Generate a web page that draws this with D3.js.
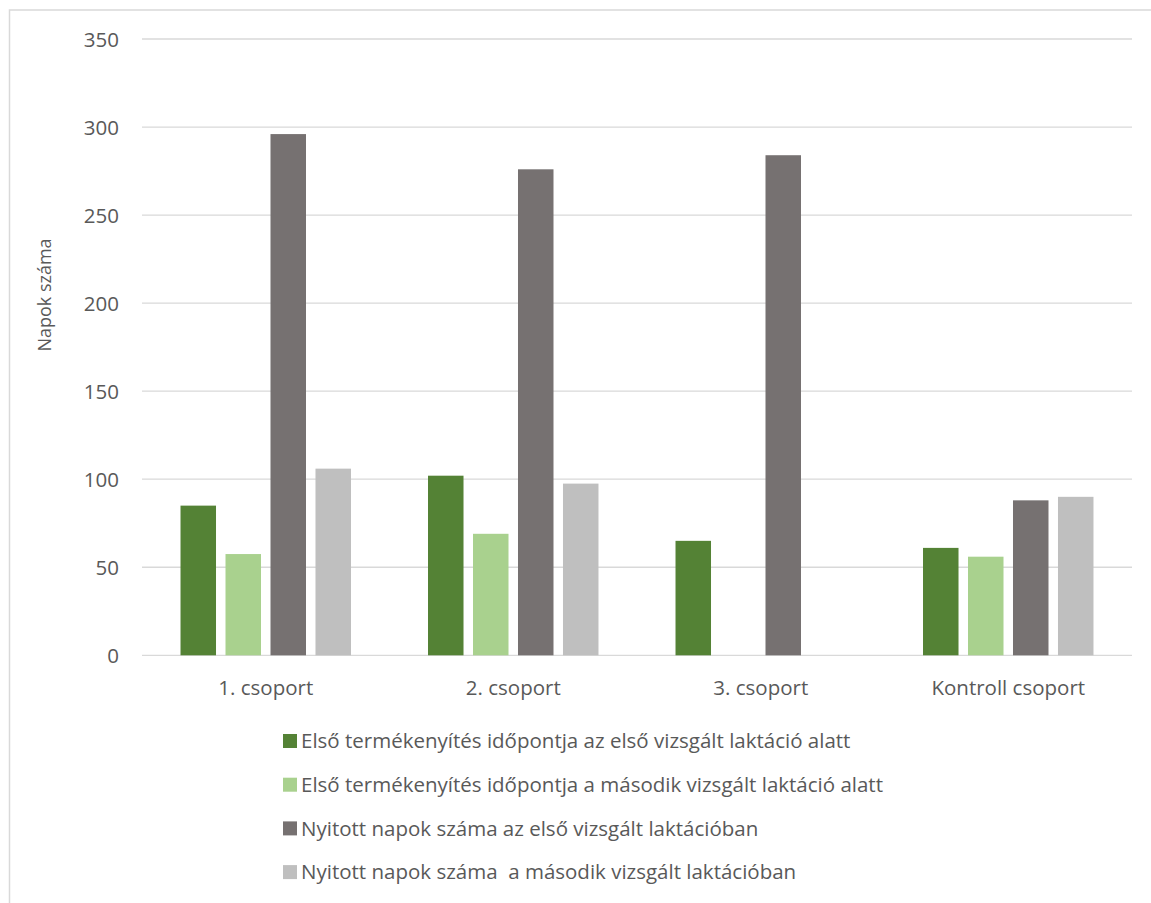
<!DOCTYPE html>
<html>
<head>
<meta charset="utf-8">
<script src="https://cdn.jsdelivr.net/npm/d3@7"></script>
<style>
  html, body { margin: 0; padding: 0; background: #fff; }
  svg { display: block; font-family: "Open Sans", "Liberation Sans", sans-serif; }
  text { white-space: pre; }
</style>
</head>
<body>
<svg id="chart" width="1151" height="903"></svg>
<script>
// Groups along the x axis
const categories = ["1. csoport", "2. csoport", "3. csoport", "Kontroll csoport"];

// Series names (legend order)
const seriesNames = [
  "Első termékenyítés időpontja az első vizsgált laktáció alatt",
  "Első termékenyítés időpontja a második vizsgált laktáció alatt",
  "Nyitott napok száma az első vizsgált laktációban",
  "Nyitott napok száma  a második vizsgált laktációban"
];

// Values per series, one entry per group (null = no bar)
const firstInsemination1 = [85, 102, 65, 61];
const firstInsemination2 = [57.5, 69, null, 56];
const openDays1 = [296, 276, 284, 88];
const openDays2 = [106, 97.5, null, 90];

const yTicks = [0, 50, 100, 150, 200, 250, 300, 350];
const colors = ["#548235", "#A9D18E", "#767171", "#BFBFBF"];

const seriesValues = [firstInsemination1, firstInsemination2, openDays1, openDays2];

const svg = d3.select("#chart");

// Outer chart frame
svg.append("rect")
  .attr("x", 9.5).attr("y", 10)
  .attr("width", 1200).attr("height", 1000)
  .attr("fill", "none").attr("stroke", "#d9d9d9").attr("stroke-width", 1.5);

const plot = { left: 142, right: 1132, top: 39, bottom: 655.3 };

const y = d3.scaleLinear().domain([0, 350]).range([plot.bottom, plot.top]);
const x0 = d3.scaleBand().domain(categories).range([plot.left, plot.right]).padding(0);
const bw = x0.bandwidth();
const x1 = d3.scaleBand().domain(d3.range(seriesNames.length))
  .range([bw * 0.1556, bw * 0.8444]).paddingInner(0.211).paddingOuter(0);

// Horizontal gridlines
svg.append("g").selectAll("line").data(yTicks).join("line")
  .attr("x1", plot.left).attr("x2", plot.right)
  .attr("y1", d => y(d)).attr("y2", d => y(d))
  .attr("stroke", "#d9d9d9").attr("stroke-width", 1.3);

// Y axis labels
const yAxis = d3.axisLeft(y).tickValues(yTicks).tickSize(0).tickPadding(0);
const gy = svg.append("g").attr("transform", `translate(119,0)`).call(yAxis);
gy.select(".domain").remove();
gy.selectAll("text")
  .attr("font-family", "Open Sans, Liberation Sans, sans-serif")
  .attr("font-size", 20.5).attr("fill", "#595959").attr("dy", "0.35em");

// Y axis title
svg.append("text")
  .attr("transform", "translate(51,295) rotate(-90)")
  .attr("text-anchor", "middle")
  .attr("font-size", 18).attr("fill", "#595959")
  .text("Napok száma");

// Bars
const groups = svg.append("g").selectAll("g").data(categories).join("g")
  .attr("transform", d => `translate(${x0(d)},0)`);

groups.selectAll("rect")
  .data((c, ci) => seriesValues.map((vals, si) => ({ si, v: vals[ci] })).filter(d => d.v != null))
  .join("rect")
  .attr("x", d => x1(d.si))
  .attr("width", x1.bandwidth())
  .attr("y", d => y(d.v))
  .attr("height", d => y(0) - y(d.v))
  .attr("fill", d => colors[d.si]);

// Category axis labels
const xAxis = d3.axisBottom(x0).tickSize(0).tickPadding(0);
const gx = svg.append("g").attr("transform", `translate(0,${plot.bottom})`).call(xAxis);
gx.select(".domain").remove();
gx.selectAll("text")
  .attr("font-family", "Open Sans, Liberation Sans, sans-serif")
  .attr("font-size", 20.5).attr("fill", "#595959")
  .attr("dy", "0").attr("y", 40);

// Legend
const legend = svg.append("g").selectAll("g").data(seriesNames).join("g")
  .attr("transform", (d, i) => `translate(283,${741 + i * 43.7})`);
legend.append("rect")
  .attr("x", 0).attr("y", -7).attr("width", 14).attr("height", 14)
  .attr("fill", (d, i) => colors[i]);
legend.append("text")
  .attr("x", 18).attr("y", 0).attr("dy", "0.35em")
  .attr("font-size", 20.5).attr("fill", "#595959")
  .text(d => d);
</script>
</body>
</html>
